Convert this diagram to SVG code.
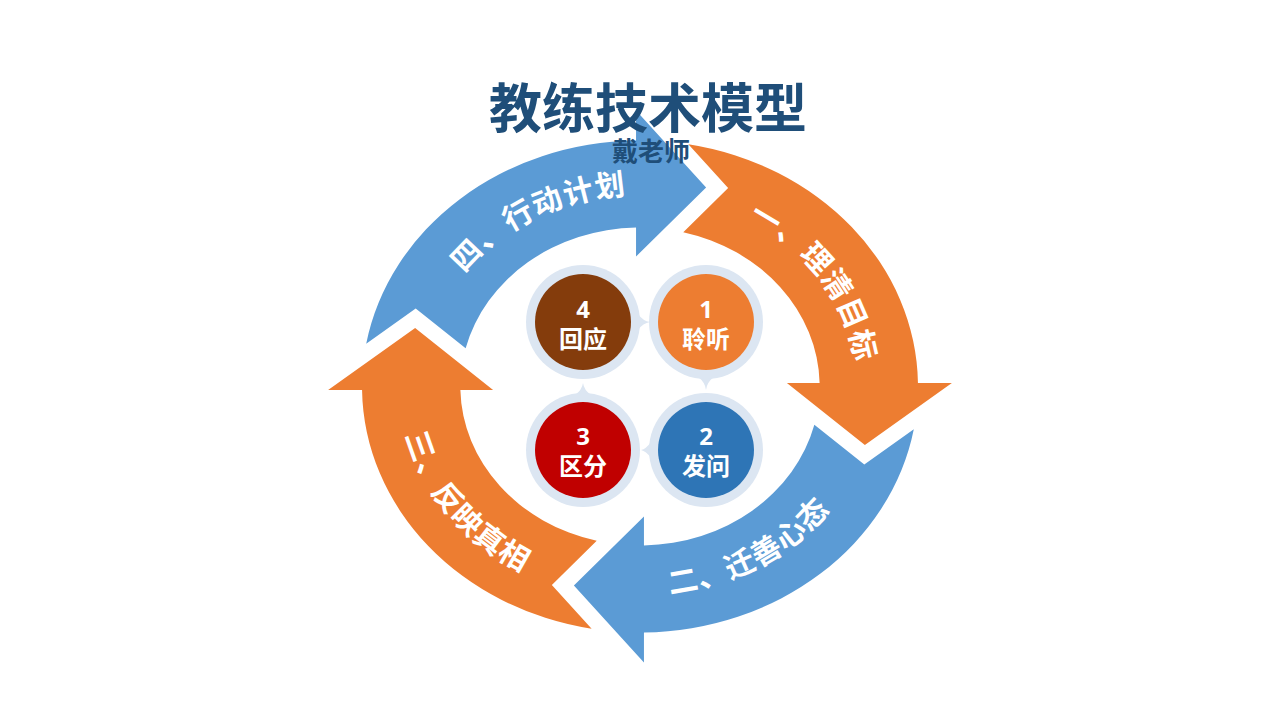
<svg xmlns="http://www.w3.org/2000/svg" width="1280" height="720" viewBox="0 0 1280 720">
<style>
.orange{fill:#ED7D31}
.blue{fill:#5B9BD5}
.ring{fill:#DCE6F2}
.alabel{font-family:"Noto Sans CJK SC","Noto Sans",sans-serif;font-weight:700;font-size:30px;fill:#FFFFFF;letter-spacing:1px}
.num{font-family:"Open Sans","Noto Sans CJK SC",sans-serif;font-weight:700;font-size:24px;fill:#FFFFFF}
.cn{font-family:"Noto Sans CJK SC","Noto Sans",sans-serif;font-weight:700;font-size:24px;fill:#FFFFFF}
.nlabel{text-anchor:middle}
.title{font-family:"Noto Sans CJK SC","Noto Sans",sans-serif;font-weight:700;fill:#1F4E79;text-anchor:middle}
</style>
<defs>
<path id="arrowShape" d="M 42.8,-242.3 A 246 246 0 0 1 245.97,-3.5 L 276,-3.5 L 199,58.5 L 130,-3.5 L 158.96,-3.5 A 159 159 0 0 0 38.3,-154.3 L 78,-198.5 Z"/>
<path id="tp1" d="M 686.2 198.9 A 217 192 0 0 1 852.0 427.4"/>
<path id="tp2" d="M 585.3 589.8 A 236.2 209 0 0 0 869.8 434.9"/>
<path id="tp3" d="M 402.3 352.8 A 240.7 213 0 0 0 601.9 596.8"/>
<path id="tp4" d="M 430.7 335.8 A 217 192 0 0 1 697.3 201.3"/>
</defs>
<rect width="1280" height="720" fill="#FFFFFF"/>

<g id="arrow1">
<use href="#arrowShape" class="orange" transform="translate(640,386.5) scale(1.13,1) rotate(0)"/>
<text class="alabel"><textPath href="#tp1" startOffset="50%" text-anchor="middle">一、理清目标</textPath></text>
</g>
<g id="arrow2">
<use href="#arrowShape" class="blue" transform="translate(640,386.5) scale(1.13,1) rotate(90)"/>
<text class="alabel"><textPath href="#tp2" startOffset="50%" text-anchor="middle">二、迁善心态</textPath></text>
</g>
<g id="arrow3">
<use href="#arrowShape" class="orange" transform="translate(640,386.5) scale(1.13,1) rotate(180)"/>
<text class="alabel"><textPath href="#tp3" startOffset="50%" text-anchor="middle">三、反映真相</textPath></text>
</g>
<g id="arrow4">
<use href="#arrowShape" class="blue" transform="translate(640,386.5) scale(1.13,1) rotate(270)"/>
<text class="alabel"><textPath href="#tp4" startOffset="50%" text-anchor="middle">四、行动计划</textPath></text>
</g>

<g id="title">
<text class="title" x="648" y="128" font-size="53">教练技术模型</text>
<text class="title" x="651" y="161" font-size="26">戴老师</text>
</g>

<g id="connectors">
<path class="ring" d="M 638,314 Q 643,321 650,322 Q 643,323 638,330 Z"/>
<path class="ring" d="M 698,377 Q 705,382 706,390 Q 707,382 714,377 Z"/>
<path class="ring" d="M 651,442 Q 646,449 641,450 Q 646,451 651,458 Z"/>
<path class="ring" d="M 575,395 Q 582,390 583,383 Q 584,390 591,395 Z"/>
</g>

<g id="node4">
<circle class="ring" cx="583" cy="322" r="57"/>
<circle cx="583" cy="322" r="48" fill="#843C0C"/>
<text class="nlabel"><tspan class="num" x="583" y="318">4</tspan><tspan class="cn" x="583" y="348">回应</tspan></text>
</g>
<g id="node1">
<circle class="ring" cx="706" cy="322" r="57"/>
<circle cx="706" cy="322" r="48" fill="#ED7D31"/>
<text class="nlabel"><tspan class="num" x="706" y="318">1</tspan><tspan class="cn" x="706" y="348">聆听</tspan></text>
</g>
<g id="node2">
<circle class="ring" cx="706" cy="450" r="57"/>
<circle cx="706" cy="450" r="48" fill="#2E75B6"/>
<text class="nlabel"><tspan class="num" x="706" y="445">2</tspan><tspan class="cn" x="706" y="475">发问</tspan></text>
</g>
<g id="node3">
<circle class="ring" cx="583" cy="450" r="57"/>
<circle cx="583" cy="450" r="48" fill="#C00000"/>
<text class="nlabel"><tspan class="num" x="583" y="445">3</tspan><tspan class="cn" x="583" y="475">区分</tspan></text>
</g>
</svg>
